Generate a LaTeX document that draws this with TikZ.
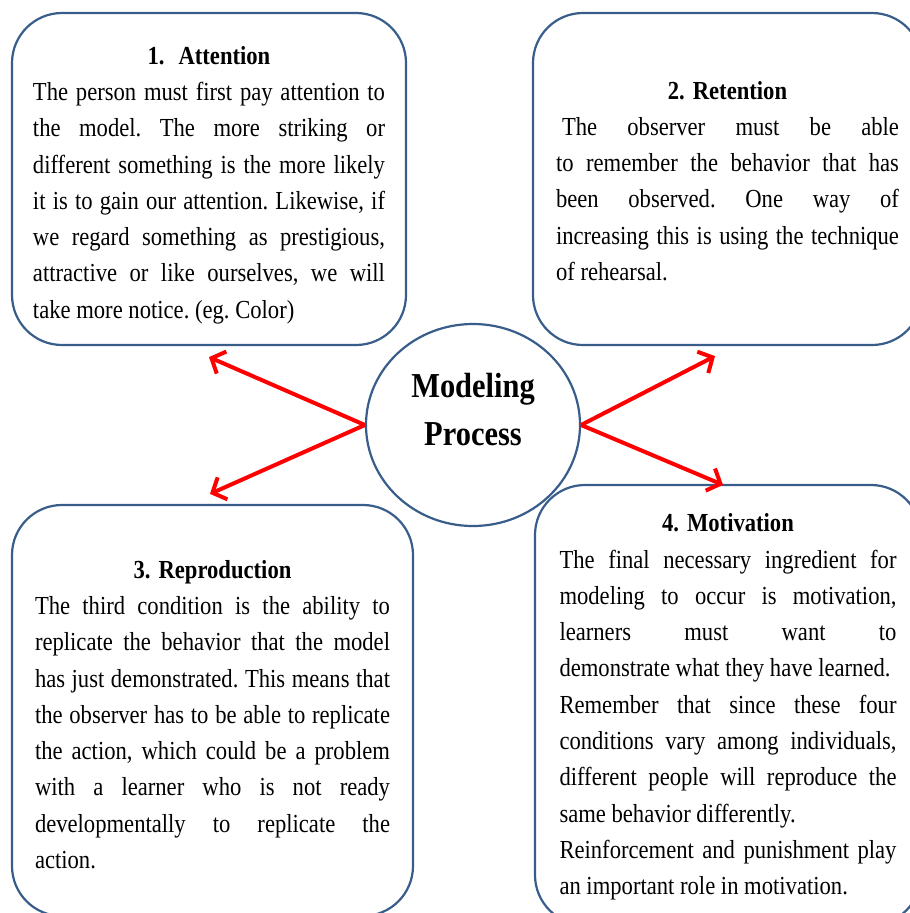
\documentclass[tikz,border=0pt]{standalone}
\usepackage{fontspec}
\setmainfont{Liberation Serif}[FakeStretch=0.87]
\usetikzlibrary{arrows.meta,shapes.geometric}
\definecolor{boxblue}{RGB}{56,93,138}
\tolerance=10000
\hbadness=10000
\frenchspacing

\begin{document}
\begin{tikzpicture}[x=1pt,y=-1pt,
		stage/.style={draw=boxblue,line width=2.2pt,rounded corners=50pt,fill=white,
			inner xsep=0pt,inner ysep=0pt,align=justify,font=\fontsize{26}{36.3}\selectfont},
		hub/.style={ellipse,draw=boxblue,line width=2.2pt,fill=white,
			minimum width=214pt,minimum height=202pt},
		hub text/.style={align=center,font=\fontsize{35}{48}\selectfont\bfseries},
		link/.style={draw=red,line width=4pt,-{Straight Barb[length=11pt,width=24pt]}}]
		
		\path[use as bounding box,fill=white] (0,0) rectangle (910,913);
		\clip (0,0) rectangle (910,913);
		
		\node[stage,text width=352pt,minimum width=394pt,minimum height=332pt] (attention) at (209,179)
		{\makebox[\linewidth]{\rule{0pt}{30pt}\bfseries 1.\hspace{14pt}Attention}\par
			The person must first pay attention to\linebreak
			the model. The more striking or\linebreak
			different something is the more likely\linebreak
			it is to gain our attention. Likewise, if\linebreak
			we regard something as prestigious,\linebreak
			attractive or like ourselves, we will\linebreak
			take more notice. (eg. Color)};
		\node[stage,text width=343pt,minimum width=389pt,minimum height=332pt] (retention) at (727.5,179)
		{\makebox[\linewidth]{\rule{0pt}{22pt}\bfseries 2.\hspace{8pt}Retention}\par
			\hspace*{6pt}The observer must be able\linebreak
			to remember the behavior that has\linebreak
			been observed. One way of\linebreak
			increasing this is using the technique\linebreak
			of rehearsal.};
		\node[stage,text width=355pt,minimum width=401pt,minimum height=411pt] (reproduction) at (212.5,710.5)
		{\makebox[\linewidth]{\rule{0pt}{26pt}\bfseries 3.\hspace{8pt}Reproduction}\par
			The third condition is the ability to\linebreak
			replicate the behavior that the model\linebreak
			has just demonstrated. This means that\linebreak
			the observer has to be able to replicate\linebreak
			the action, which could be a problem\linebreak
			with a learner who is not ready\linebreak
			developmentally to replicate the\linebreak
			action.};
		\node[stage,text width=337pt,minimum width=386pt,minimum height=440pt] (motivation) at (728,705)
		{\makebox[\linewidth]{\rule{0pt}{22pt}\bfseries 4.\hspace{8pt}Motivation}\par
			The final necessary ingredient for\linebreak
			modeling to occur is motivation,\linebreak
			learners must want to\linebreak
			demonstrate what they have learned.\par
			Remember that since these four\linebreak
			conditions vary among individuals,\linebreak
			different people will reproduce the\linebreak
			same behavior differently.\par
			Reinforcement and punishment play\linebreak
			an important role in motivation.};
		
		\node[hub] (hub) at (473,425) {};
		\node[hub text] (hub label) at ([yshift=15pt]hub.center) {Modeling\\Process};
		
		\draw[link] (hub.west) -- ([yshift=-11pt]attention.south);
		\draw[link] (hub.east) -- ([xshift=-12.5pt,yshift=-10pt]retention.south);
		\draw[link] (hub.west) -- ([xshift=-2.5pt,yshift=10pt]reproduction.north);
		\draw[link] (hub.east) -- ([xshift=-5pt,yshift=-1pt]motivation.north);
		
	\end{tikzpicture}
\end{document}
